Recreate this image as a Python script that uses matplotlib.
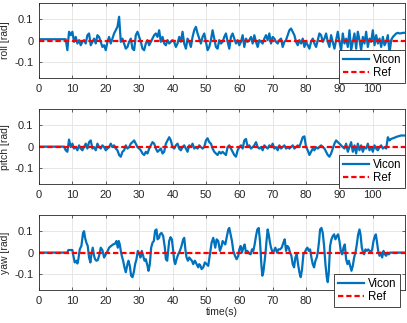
import numpy as np
import matplotlib
matplotlib.use("Agg")
import matplotlib.pyplot as plt

plt.rcParams.update({
    "font.family": ["Liberation Sans", "DejaVu Sans"],
    "font.size": 7.5,
    "axes.unicode_minus": False,
    "axes.linewidth": 0.6,
    "axes.edgecolor": "#262626",
    "xtick.color": "#262626",
    "ytick.color": "#262626",
})

# time grid of the hand-read roll/pitch samples (s)
t_rp = np.arange(0, 110.01, 0.5)

roll = [
    0.006, 0.006, 0.006, 0.006, 0.006, 0.006, 0.006, 0.006, 0.006, 0.006,
    0.006, 0.006, 0.006, 0.006, 0.006, 0.006, 0.006,
    -0.045, 0.041, 0.025, 0.041, -0.006, 0.017, -0.014, 0.002, -0.022, -0.006,
    0.002, -0.014, 0.025, 0.033, -0.022, -0.006, 0.009, -0.014, 0.025, 0.017,
    -0.006, -0.030, -0.022, -0.045, -0.006, 0.017, -0.014, 0.009, 0.033, 0.048,
    0.064, 0.111, -0.006, 0.009, -0.014, -0.038, -0.030, -0.006, 0.009, -0.038,
    -0.045, 0.025, 0.041, 0.017, -0.006, -0.038, -0.045, -0.014, 0.002, -0.022,
    -0.006, 0.009, 0.025, 0.033, 0.017, 0.048, -0.006, 0.017, -0.014, -0.022,
    0.002, -0.014, -0.006, 0.002, -0.006, -0.030, -0.014, 0.017, -0.006, 0.041,
    -0.014, -0.038, 0.009, -0.006, -0.030, 0.017, 0.048, 0.064, 0.033, 0.009,
    -0.014, 0.017, 0.033, -0.006, -0.045, -0.030, 0.002, 0.048, 0.009, -0.030,
    -0.038, 0.002, -0.014,
    -0.006, 0.017, 0.033, -0.006, -0.038, 0.017, 0.033, 0.009, -0.014, 0.002,
    -0.022, -0.006, 0.025, -0.030, 0.009, -0.006, 0.002, 0.017, -0.014, 0.025,
    -0.006, -0.030, 0.002, -0.006, -0.014, 0.009, 0.025, 0.002, 0.033, -0.014,
    0.017, 0.009, -0.006, -0.014, 0.002, 0.009, -0.030, -0.006, 0.002, 0.025,
    0.048, 0.056, 0.041, 0.025, -0.006, -0.022, 0.002, -0.014, 0.009, -0.030,
    -0.006, -0.022, -0.038, -0.006, 0.009, -0.014, -0.030, 0.002, 0.033, 0.025,
    -0.006, 0.009, 0.033, -0.006, -0.030, 0.025, -0.006, -0.038, 0.002, 0.041,
    -0.006, -0.045, 0.033, -0.014, 0.009, -0.030, 0.048, -0.045, -0.006, 0.033,
    -0.038, 0.041, 0.002, -0.045, 0.017, -0.014, 0.041, -0.030, 0.009, -0.006,
    0.048, -0.022, 0.025, -0.014, 0.009, -0.030, 0.017, -0.022, -0.006, 0.025,
    -0.058, 0.002, 0.017, 0.025, 0.033, 0.036, 0.033, 0.034, 0.036, 0.036,
    0.036,
]

pitch = [
    0.000, 0.000, 0.000, 0.000, 0.000, 0.000, 0.000, 0.000, 0.000, 0.000,
    0.000, 0.000, 0.000, 0.000, 0.000, 0.000,
    -0.017, -0.024, 0.033, -0.002, 0.014, -0.009, -0.002, -0.017, 0.006, -0.009,
    -0.017, -0.002, 0.014, -0.009, 0.021, 0.029, -0.009, -0.002, -0.017, 0.014,
    -0.002, -0.009, 0.006, -0.002, -0.017, -0.009, -0.002, 0.014, -0.002, 0.006,
    -0.009, -0.017, -0.039, -0.047, -0.024, -0.017, 0.006, -0.009, -0.002, 0.014,
    0.021, 0.029, 0.014, -0.002, -0.009, -0.017, -0.032, -0.039, -0.024, -0.032,
    -0.009, 0.006, 0.021, 0.014, -0.009, -0.024, -0.017, -0.009, -0.032, -0.024,
    0.014, 0.029, 0.044, 0.029, -0.002, -0.009, 0.006, 0.014, -0.009, -0.017,
    -0.002, 0.006, -0.009, -0.024, 0.006, -0.002, 0.014, -0.009, -0.002, -0.009,
    0.006, -0.002, -0.009, -0.002, 0.029, 0.039, 0.021, 0.014, -0.009, -0.024,
    -0.032, -0.039, -0.024, -0.032,
    -0.024, -0.032, -0.039, -0.002, 0.006, -0.009, -0.024, -0.039, -0.047, -0.017,
    -0.002, 0.006, -0.009, 0.029, 0.036, -0.002, 0.006, -0.009, -0.002, 0.006,
    0.021, -0.002, -0.009, -0.002, -0.017, 0.006, -0.002, -0.009, 0.006, -0.002,
    0.014, -0.009, -0.002, -0.017, 0.006, -0.009, -0.002, 0.006, -0.009, -0.002,
    -0.009, -0.002, 0.006, -0.009, -0.002, 0.006, -0.002, 0.021, 0.044, 0.048,
    -0.002, -0.017, -0.039, -0.024, -0.009, -0.017, -0.002, -0.009, -0.002, 0.006,
    -0.002, -0.009, -0.024, -0.039, -0.047, -0.032, -0.009, 0.014, 0.029, 0.021,
    0.014, 0.006, -0.002, -0.009, 0.014, -0.024, -0.002, 0.021, -0.024, 0.006,
    -0.032, 0.014, -0.017, 0.006, -0.024, -0.002, -0.009, 0.014, -0.017, -0.002,
    -0.024, 0.006, -0.009, -0.017, -0.002, 0.006, -0.009, -0.002, -0.009, 0.044,
    0.029, 0.036, 0.039, 0.042, 0.045, 0.048, 0.050, 0.052, 0.052, 0.052,
    0.052,
]

# yaw read at irregular times (s, rad)
t_yaw = [
    0.0, 8.5, 8.8, 10.0, 10.3, 10.7, 11.2, 11.5, 11.8, 12.2, 12.7, 13.2, 13.5,
    13.8, 14.2, 14.6, 15.0, 15.4, 15.7, 16.1, 16.5, 16.8, 17.2, 17.6, 18.0,
    18.5, 19.0, 19.5, 20.0, 20.5, 21.0, 21.6, 22.2, 22.8, 23.2, 23.6, 23.9,
    24.2, 24.5, 24.8, 25.2, 25.6, 26.0, 26.5, 26.8, 27.2, 27.6, 28.0, 28.4,
    28.8, 29.2, 29.6, 30.0, 30.4, 30.8, 31.2, 31.6, 32.0, 32.5, 32.8, 33.2,
    33.6, 34.0, 34.4, 34.8, 35.2, 35.5, 36.0, 36.2, 36.7, 37.2, 37.7, 38.0,
    38.4, 38.7, 39.0, 39.4, 39.8, 40.2, 40.5, 40.8, 41.2, 41.7, 42.2, 42.7,
    43.2, 43.5, 43.9, 44.2, 44.6, 45.0, 45.4, 45.8, 46.2, 46.7, 47.2, 47.7,
    48.0, 48.4, 48.7, 49.2, 49.7, 50.2, 50.7, 51.2, 51.7, 52.2, 52.5, 52.8,
    53.2, 53.7, 54.2, 54.7, 55.0, 55.4, 55.8, 56.2, 56.7, 57.0, 57.4, 57.8,
    58.2, 58.7, 59.2, 59.7, 60.0, 60.4, 60.8, 61.2, 61.6, 62.0, 62.4, 63.0,
    63.4, 63.8, 64.2, 64.6, 65.0, 65.4, 65.8, 66.2, 66.6, 66.9, 67.2, 67.6,
    67.9, 68.2, 68.5, 68.8, 69.2, 69.5, 70.0, 70.4, 70.8, 71.3, 71.7, 72.2,
    72.7, 73.2, 73.6, 74.0, 74.4, 74.8, 75.2, 75.6, 76.0, 76.4, 76.8, 77.2,
    77.6, 78.0, 78.4, 78.8, 79.2, 79.6, 80.0, 80.4, 80.8, 81.2, 81.6, 82.0,
    82.4, 82.8, 83.2, 83.5, 83.9, 84.2, 84.6, 85.0, 85.4, 85.8, 86.2, 86.5,
    86.8, 87.2, 87.6, 88.0, 88.4, 88.8, 89.2, 89.6, 90.0, 90.4, 90.8, 91.2,
    91.6, 92.0, 92.4, 92.8, 93.2, 93.6, 94.0, 94.4, 94.8, 95.2, 95.6, 96.0,
    96.3, 96.7, 97.1, 97.4, 97.8, 98.2, 98.6, 99.0, 99.4, 99.8, 100.2, 100.6,
    100.9, 101.2, 101.6, 102.0, 102.4, 102.8, 103.2, 103.6, 104.0, 104.4,
    104.8, 105.2, 105.6, 110.0,
]
yaw = [
    0.0, 0.0, 0.012, 0.012, -0.015, -0.046, -0.038, -0.051, -0.031, 0.015,
    0.031, 0.092, 0.100, 0.069, 0.046, 0.031, -0.023, -0.046, -0.008, 0.023,
    -0.015, -0.031, -0.038, -0.035, -0.015, 0.023, 0.011, -0.023, -0.008,
    0.005, 0.023, 0.031, 0.038, 0.042, 0.054, 0.023, 0.054, 0.038, 0.008,
    -0.015, -0.038, -0.069, -0.092, -0.054, -0.038, -0.062, -0.108, -0.115,
    -0.092, -0.054, -0.031, 0.008, -0.005, -0.023, 0.008, -0.015, -0.038,
    -0.031, -0.062, -0.085, -0.054, 0.023, 0.046, 0.054, 0.103, 0.108, 0.062,
    0.069, 0.085, 0.092, 0.077, 0.023, -0.031, -0.038, 0.008, 0.054, 0.072,
    0.062, 0.008, -0.038, -0.054, -0.031, -0.008, 0.008, 0.031, 0.062, 0.069,
    0.008, -0.023, -0.038, -0.023, -0.031, -0.038, -0.054, -0.038, -0.054,
    -0.069, -0.054, -0.062, -0.077, -0.069, -0.046, -0.054, -0.062, -0.008,
    0.046, 0.069, 0.046, 0.023, 0.062, 0.054, 0.008, 0.031, 0.054, 0.046,
    0.038, 0.069, 0.108, 0.115, 0.085, 0.054, 0.008, -0.015, -0.031, -0.015,
    0.015, 0.031, 0.000, 0.023, 0.038, 0.000, 0.008, -0.005, -0.008, 0.015,
    0.008, 0.038, 0.077, 0.108, 0.115, 0.054, -0.054, -0.108, -0.092, -0.038,
    0.008, 0.062, 0.108, 0.085, 0.046, 0.023, 0.000, 0.008, 0.023, 0.000,
    0.015, 0.015, 0.023, 0.046, 0.062, 0.008, 0.031, 0.023, 0.000, -0.015,
    -0.054, -0.069, -0.023, -0.008, -0.054, -0.092, -0.115, -0.077, -0.008,
    0.000, 0.015, 0.023, 0.008, 0.015, -0.023, -0.054, -0.069, -0.038, -0.023,
    0.000, 0.054, 0.108, 0.115, 0.092, 0.031, -0.054, -0.115, -0.138, -0.092,
    0.031, 0.062, 0.077, 0.085, 0.062, 0.077, 0.085, 0.054, 0.008, -0.008,
    0.023, 0.038, -0.031, -0.054, -0.038, -0.062, -0.085, -0.062, -0.023,
    0.000, 0.038, 0.085, 0.108, 0.085, 0.023, 0.000, -0.008, 0.015, 0.008,
    0.015, 0.008, 0.000, 0.015, 0.054, 0.077, 0.085, 0.054, 0.008, -0.015,
    0.000, -0.023, 0.008, -0.008, -0.015, 0.000, -0.008, 0.000, 0.000, 0.000,
]

t_ref = [0.0, 110.0]
ref = [0.0, 0.0]

xticks = [0, 10, 20, 30, 40, 50, 60, 70, 80, 90, 100]
xlabels = ["0", "10", "20", "30", "40", "50", "60", "70", "80", "90", "100"]
# in the yaw panel the legend sits over the 90 and 100 labels
xlabels_yaw = ["0", "10", "20", "30", "40", "50", "60", "70", "80", "", ""]

BLUE = "#0072BD"
RED = "#FF0000"

panels = [
    (t_rp, roll, "roll [rad]", (1.0, -0.063), xlabels),
    (t_rp, pitch, "pitch [rad]", (1.0, -0.05), xlabels),
    (t_yaw, yaw, "yaw [rad]", (0.986, -0.225), xlabels_yaw),
]
bottoms = [0.7585, 0.430, 0.102]

fig = plt.figure(figsize=(4.07, 3.23), dpi=100)
for (tt, vv, lab, anchor, xl), b in zip(panels, bottoms):
    ax = fig.add_axes([0.0958, b, 0.899, 0.232])
    ax.plot(tt, vv, color=BLUE, lw=1.6, label="Vicon")
    ax.plot(t_ref, ref, color=RED, lw=1.6, dashes=(2.4, 1.3), label="Ref")
    ax.set_xlim(0, 109.6)
    ax.set_ylim(-0.175, 0.175)
    ax.set_xticks(xticks)
    ax.set_xticklabels(xl)
    ax.set_yticks([-0.1, 0, 0.1])
    ax.set_yticklabels(["-0.1", "0", "0.1"])
    ax.grid(True, color="#e3e3e3", lw=0.6)
    ax.set_axisbelow(True)
    ax.tick_params(direction="in", length=2.5, width=0.5, top=True, right=True,
                   labelsize=8, pad=4)
    ax.set_ylabel(lab, fontsize=7.5, labelpad=3, color="#262626")
    leg = ax.legend(loc="lower right", bbox_to_anchor=anchor, fontsize=8.3,
                    fancybox=False, framealpha=1, edgecolor="#262626",
                    handlelength=2.3, borderpad=0.3, labelspacing=0.15,
                    handletextpad=0.3, borderaxespad=0)
    leg.get_frame().set_linewidth(0.6)
    if lab.startswith("yaw"):
        ax.set_xlabel("time(s)", fontsize=7.5, labelpad=1, color="#262626")

fig.savefig("out.png", dpi=100)
